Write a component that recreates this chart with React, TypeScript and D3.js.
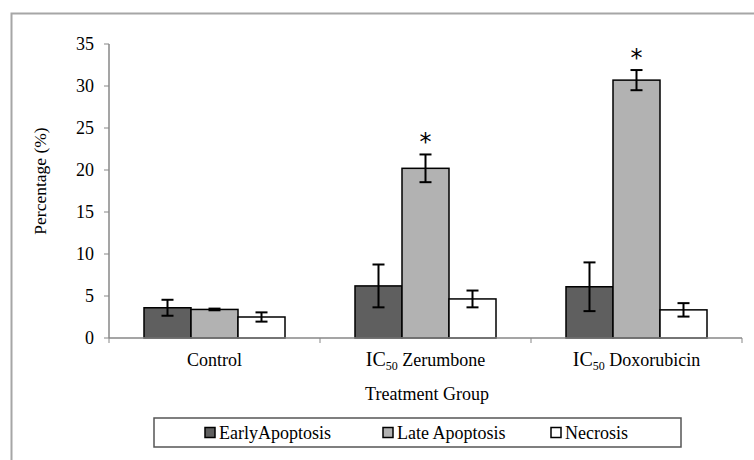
import { useEffect, useRef } from "react";
import * as d3 from "d3";

const groups = ["Control", "Zerumbone", "Doxorubicin"];
const groupPrefix = ["", "IC", "IC"];
const groupSub = ["", "50", "50"];
const groupName = ["Control", " Zerumbone", " Doxorubicin"];

const seriesNames = ["EarlyApoptosis", "Late Apoptosis", "Necrosis"];
const seriesColors = ["#5f5f5f", "#b2b2b2", "#ffffff"];

const earlyValues = [3.6, 6.2, 6.1];
const earlyErrors = [0.95, 2.55, 2.9];
const lateValues = [3.4, 20.2, 30.7];
const lateErrors = [0.1, 1.65, 1.2];
const necrosisValues = [2.5, 4.65, 3.35];
const necrosisErrors = [0.55, 1.0, 0.8];

const significant = [
  [false, false, false],
  [false, true, false],
  [false, true, false],
];

const yTicks = [0, 5, 10, 15, 20, 25, 30, 35];

const FONT = "Liberation Serif";

export default function App() {
  const svgRef = useRef<SVGSVGElement>(null);

  useEffect(() => {
    if (!svgRef.current) return;
    document.body.style.margin = "0";
    d3.select(svgRef.current).selectAll("*").remove();

    const width = 754;
    const height = 460;
    const axisColor = "#878787";

    const values = [earlyValues, lateValues, necrosisValues];
    const errors = [earlyErrors, lateErrors, necrosisErrors];

    const svg = d3
      .select(svgRef.current)
      .attr("width", width)
      .attr("height", height)
      .attr("font-family", FONT)
      .style("display", "block");

    // outer frame
    svg
      .append("path")
      .attr("d", `M11.5,${height} V13.5 H${width}`)
      .attr("fill", "none")
      .attr("stroke", "#a6a6a6")
      .attr("stroke-width", 2);

    const x = d3.scaleBand().domain(groups).range([109, 742]);
    const inner = d3
      .scaleBand()
      .domain(seriesNames)
      .range([35, x.bandwidth() - 35]);
    const y = d3.scaleLinear().domain([0, 35]).range([338, 44]);

    // y axis
    const yAxis = svg.append("g").attr("transform", "translate(109,0)");
    yAxis
      .append("line")
      .attr("y1", y(0))
      .attr("y2", y(35))
      .attr("stroke", axisColor)
      .attr("stroke-width", 1.5);
    yTicks.forEach((t) => {
      yAxis
        .append("line")
        .attr("x1", -5)
        .attr("x2", 0)
        .attr("y1", y(t))
        .attr("y2", y(t))
        .attr("stroke", axisColor)
        .attr("stroke-width", 1);
      yAxis
        .append("text")
        .attr("x", -15)
        .attr("y", y(t))
        .attr("dy", "0.34em")
        .attr("text-anchor", "end")
        .attr("font-family", FONT)
        .attr("font-size", 18)
        .attr("fill", "#000")
        .text(t);
    });

    // bars
    const bars = svg.append("g");
    groups.forEach((g, gi) => {
      seriesNames.forEach((s, si) => {
        const v = values[si][gi];
        const bx = (x(g) as number) + (inner(s) as number);
        bars
          .append("rect")
          .attr("x", bx)
          .attr("y", y(v))
          .attr("width", inner.bandwidth())
          .attr("height", y(0) - y(v))
          .attr("fill", seriesColors[si])
          .attr("stroke", "#000")
          .attr("stroke-width", 1.5);
      });
    });

    // x axis
    const xAxis = svg.append("g");
    xAxis
      .append("line")
      .attr("x1", 109)
      .attr("x2", 742)
      .attr("y1", y(0))
      .attr("y2", y(0))
      .attr("stroke", axisColor)
      .attr("stroke-width", 1.5);
    [...groups.map((g) => x(g) as number), 742].forEach((tx) => {
      xAxis
        .append("line")
        .attr("x1", tx)
        .attr("x2", tx)
        .attr("y1", y(0))
        .attr("y2", y(0) + 5)
        .attr("stroke", axisColor)
        .attr("stroke-width", 1);
    });

    // error bars and significance marks
    groups.forEach((g, gi) => {
      seriesNames.forEach((s, si) => {
        const v = values[si][gi];
        const e = errors[si][gi];
        const cx = (x(g) as number) + (inner(s) as number) + inner.bandwidth() / 2;
        const eb = svg.append("g").attr("stroke", "#000").attr("stroke-width", 2);
        eb.append("line").attr("x1", cx).attr("x2", cx).attr("y1", y(v + e)).attr("y2", y(v - e));
        eb.append("line").attr("x1", cx - 6).attr("x2", cx + 6).attr("y1", y(v + e)).attr("y2", y(v + e));
        eb.append("line").attr("x1", cx - 6).attr("x2", cx + 6).attr("y1", y(v - e)).attr("y2", y(v - e));
        if (significant[gi][si]) {
          svg
            .append("text")
            .attr("x", cx)
            .attr("y", y(v + e) - 4)
            .attr("text-anchor", "middle")
            .attr("font-size", 24)
            .attr("font-family", "DejaVu Sans")
            .attr("fill", "#000")
            .text("*");
        }
      });
    });

    // category labels
    groups.forEach((g, gi) => {
      const t = svg
        .append("text")
        .attr("x", (x(g) as number) + x.bandwidth() / 2)
        .attr("y", 366)
        .attr("text-anchor", "middle")
        .attr("font-family", FONT)
        .attr("font-size", 18)
        .attr("fill", "#000");
      if (groupPrefix[gi]) {
        t.append("tspan").attr("font-size", 20).text(groupPrefix[gi]);
        t.append("tspan").attr("font-size", 12).attr("dy", 4).text(groupSub[gi]);
        t.append("tspan").attr("dy", -4).text(groupName[gi]);
      } else {
        t.text(groupName[gi]);
      }
    });

    // axis titles
    svg
      .append("text")
      .attr("x", 427)
      .attr("y", 400)
      .attr("text-anchor", "middle")
      .attr("font-family", FONT)
      .attr("font-size", 18)
      .attr("fill", "#000")
      .text("Treatment Group");

    svg
      .append("text")
      .attr("transform", "translate(46,181) rotate(-90)")
      .attr("text-anchor", "middle")
      .attr("font-family", FONT)
      .attr("font-size", 17.5)
      .attr("fill", "#000")
      .text("Percentage (%)");

    // legend
    const legend = svg.append("g");
    legend
      .append("rect")
      .attr("x", 154)
      .attr("y", 418)
      .attr("width", 527)
      .attr("height", 29)
      .attr("fill", "#fff")
      .attr("stroke", "#555")
      .attr("stroke-width", 1.5);
    const legendX = [205, 383, 551];
    seriesNames.forEach((s, si) => {
      legend
        .append("rect")
        .attr("x", legendX[si])
        .attr("y", 427.5)
        .attr("width", 10)
        .attr("height", 10)
        .attr("fill", seriesColors[si])
        .attr("stroke", "#000")
        .attr("stroke-width", 1.5);
      legend
        .append("text")
        .attr("x", legendX[si] + 14)
        .attr("y", 439)
        .attr("font-family", FONT)
        .attr("font-size", 18)
        .attr("fill", "#000")
        .text(s);
    });
  }, []);

  return <svg ref={svgRef}></svg>;
}
